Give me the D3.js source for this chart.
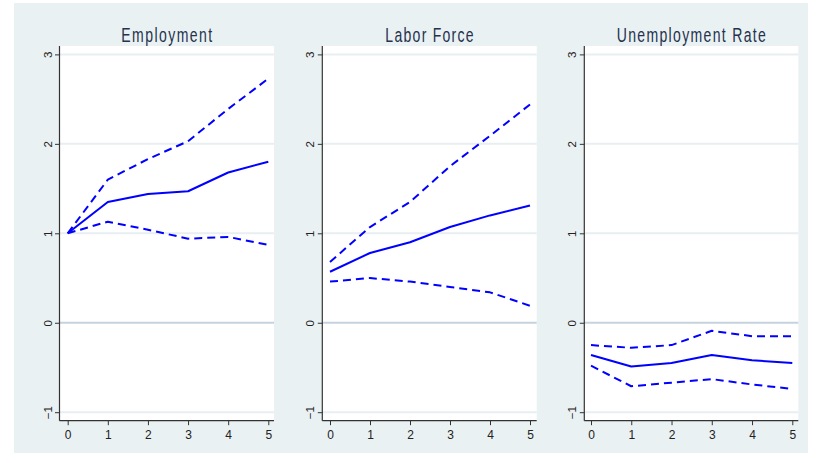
<!DOCTYPE html>
<html>
<head>
<meta charset="utf-8">
<script src="https://cdn.jsdelivr.net/npm/d3@7"></script>
<style>
  html, body { margin: 0; padding: 0; background: #ffffff; }
  svg { display: block; font-family: "Liberation Sans", Arial, sans-serif; }
</style>
</head>
<body>
<svg id="chart" width="818" height="463"></svg>
<script>
// ---- data ----
const horizons = [0, 1, 2, 3, 4, 5];
const yTicks = [-1, 0, 1, 2, 3];
const panelTitles = ["Employment", "Labor Force", "Unemployment Rate"];

const empEst = [1.00, 1.35, 1.44, 1.47, 1.68, 1.80];
const empHi  = [1.00, 1.60, 1.83, 2.03, 2.39, 2.73];
const empLo  = [1.00, 1.13, 1.04, 0.94, 0.96, 0.87];

const lfEst = [0.57, 0.78, 0.90, 1.07, 1.20, 1.31];
const lfHi  = [0.68, 1.07, 1.35, 1.75, 2.09, 2.44];
const lfLo  = [0.46, 0.50, 0.46, 0.40, 0.34, 0.19];

const urEst = [-0.36, -0.49, -0.45, -0.36, -0.42, -0.45];
const urHi  = [-0.25, -0.28, -0.25, -0.09, -0.15, -0.15];
const urLo  = [-0.48, -0.71, -0.67, -0.63, -0.69, -0.74];

const panelData = [
  { est: empEst, hi: empHi, lo: empLo },
  { est: lfEst,  hi: lfHi,  lo: lfLo },
  { est: urEst,  hi: urHi,  lo: urLo }
];

// ---- layout / style ----
const svg = d3.select("#chart");
const bg = "#eaf1f3";
svg.append("rect").attr("x", 14).attr("y", 3).attr("width", 794).attr("height", 450).attr("fill", bg);

const panels = [
  { axisX: 59.5,  x0: 67.7, x5: 268.3, right: 274.0 },
  { axisX: 322.3, x0: 330.0, x5: 530.0, right: 536.7 },
  { axisX: 584.3, x0: 591.0, x5: 792.3, right: 798.3 }
];
const plotTop = 46, axisY = 420.7;
const y = d3.scaleLinear().domain([-1, 3]).range([412.2, 54.4]);
const lineColor = "#0000ff";
const axisColor = "#333333";

panels.forEach((p, i) => {
  const g = svg.append("g");
  const x = d3.scaleLinear().domain([0, 5]).range([p.x0, p.x5]);

  // plot region
  g.append("rect").attr("x", p.axisX).attr("y", plotTop)
    .attr("width", p.right - p.axisX).attr("height", axisY - plotTop).attr("fill", "#ffffff");

  // gridlines
  g.selectAll(".grid").data(yTicks.filter(t => t !== 0)).enter().append("line")
    .attr("x1", p.axisX).attr("x2", p.right)
    .attr("y1", d => y(d)).attr("y2", d => y(d))
    .attr("stroke", "#e7eff2").attr("stroke-width", 2);

  // zero line
  g.append("line").attr("x1", p.axisX).attr("x2", p.right)
    .attr("y1", y(0)).attr("y2", y(0))
    .attr("stroke", "#c6d3de").attr("stroke-width", 2);

  // data lines
  const line = d3.line().x((d, j) => x(horizons[j])).y(d => y(d));
  const d = panelData[i];
  [["hi", "8,5"], ["lo", "8,5"], ["est", null]].forEach(([k, dash]) => {
    const path = g.append("path").datum(d[k]).attr("d", line)
      .attr("fill", "none").attr("stroke", lineColor).attr("stroke-width", 2)
      .attr("stroke-linejoin", "round");
    if (dash) path.attr("stroke-dasharray", dash);
  });

  // y axis
  const yAxis = d3.axisLeft(y).tickValues(yTicks).tickSize(4.5).tickFormat(d3.format("d"));
  const ya = g.append("g").attr("transform", `translate(${p.axisX},0)`).call(yAxis);
  ya.select(".domain").attr("d", `M0,${plotTop}V${axisY}`).attr("stroke", axisColor).attr("stroke-width", 1.2);
  ya.selectAll(".tick line").attr("stroke", axisColor).attr("stroke-width", 1);
  ya.selectAll(".tick text")
    .attr("x", null).attr("dy", null)
    .attr("transform", "translate(-8,0) rotate(-90)")
    .attr("text-anchor", "middle")
    .attr("font-size", 11.5).attr("fill", "#222")
    .attr("font-family", "Liberation Sans, Arial, sans-serif");

  // x axis
  const xAxis = d3.axisBottom(x).tickValues(horizons).tickSize(4.5).tickFormat(d3.format("d"));
  const xa = g.append("g").attr("transform", `translate(0,${axisY})`).call(xAxis);
  xa.select(".domain").attr("d", `M${p.axisX},0H${p.right}`).attr("stroke", axisColor).attr("stroke-width", 1.2);
  xa.selectAll(".tick line").attr("stroke", axisColor).attr("stroke-width", 1);
  xa.selectAll(".tick text").attr("y", 18.5).attr("dy", null)
    .attr("font-size", 12).attr("fill", "#222")
    .attr("font-family", "Liberation Sans, Arial, sans-serif");

  // title: narrow glyphs with open letter spacing
  const sx = 0.72;
  const tg = g.append("g")
    .attr("transform", `translate(${(p.axisX + p.right) / 2},41.7) scale(${sx},1)`);
  const t = tg.append("text")
    .attr("x", 0).attr("y", 0)
    .attr("text-anchor", "middle").attr("font-size", 19.5)
    .attr("fill", "#25314d").text(panelTitles[i]);
  const w = t.node().getComputedTextLength();
  t.attr("textLength", w * 0.84 / sx).attr("lengthAdjust", "spacing");
});
</script>
</body>
</html>
